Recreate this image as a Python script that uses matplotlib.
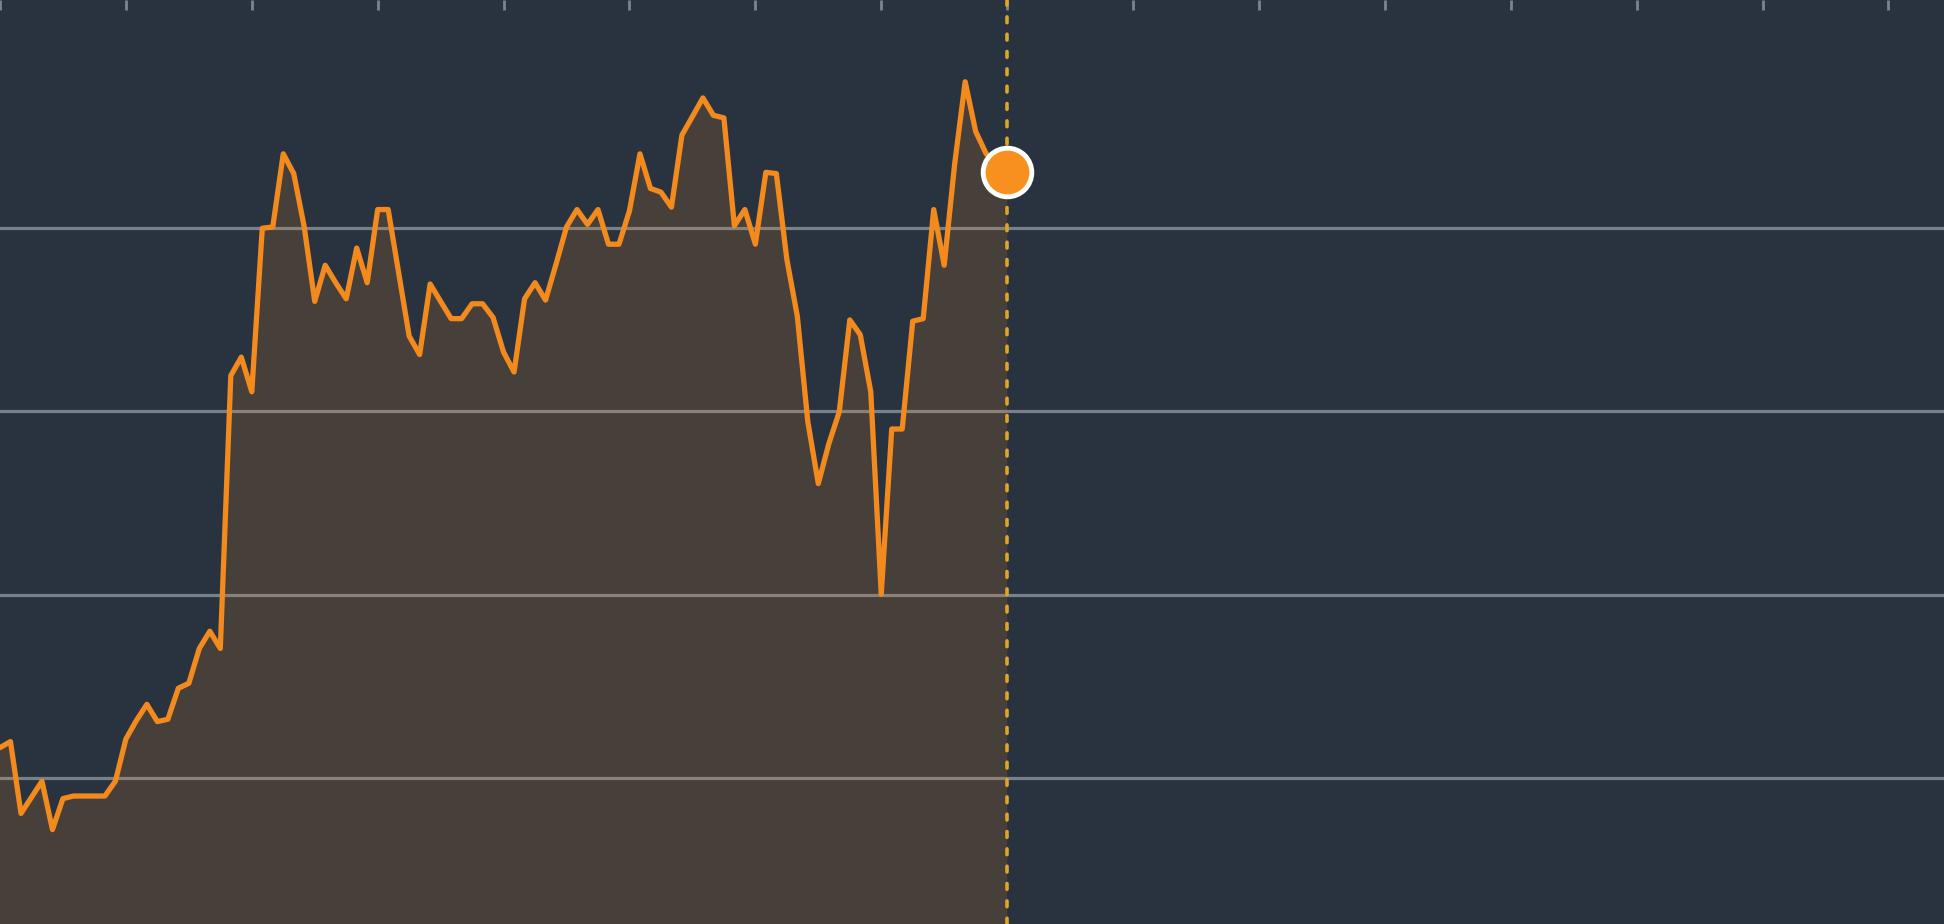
import matplotlib
matplotlib.use("Agg")
import matplotlib.pyplot as plt
import numpy as np

# ---- data (trading-day index and value) ----
days = list(range(0, 97))
values = [
    101.66, 101.99, 98.07, 98.95, 99.83, 97.19, 98.88, 99.02, 99.02, 99.02,
    99.02, 99.83, 102.13, 103.14, 104.02, 103.08, 103.21, 104.90, 105.17, 107.07,
    108.01, 107.07, 121.95, 122.96, 121.07, 129.99, 130.06, 134.05, 132.97, 130.06,
    126.00, 127.97, 127.02, 126.14, 128.91, 127.02, 131.01, 131.01, 127.56, 124.11,
    123.10, 126.95, 126.00, 125.06, 125.06, 125.87, 125.87, 125.12, 123.23, 122.15,
    126.14, 127.02, 126.07, 128.03, 130.06, 131.01, 130.20, 131.01, 129.12, 129.12,
    130.94, 134.05, 132.16, 131.96, 131.14, 135.07, 136.08, 137.10, 136.15, 136.01,
    130.13, 131.01, 129.12, 133.04, 132.97, 128.30, 125.19, 119.44, 116.06, 118.23,
    119.98, 124.99, 124.18, 121.07, 110.04, 119.04, 119.04, 124.92, 125.06, 131.01,
    127.97, 133.51, 137.98, 135.27, 134.05, 133.51, 133.04,
]
x_ticks = list(range(0, 181, 12))
y_grid = [100, 110, 120, 130]
x_range = (0.32, 185.3)
y_range = (92.04, 142.44)

BG = "#29333f"
ORANGE = "#f28a1e"
DOT = "#f7901f"
GOLD = "#dfa526"

fig = plt.figure(figsize=(19.44, 9.24), dpi=100)
fig.patch.set_facecolor(BG)
ax = fig.add_axes([0, 0, 1, 1])
ax.set_facecolor(BG)

ax.set_xlim(*x_range)
ax.set_ylim(*y_range)

# gridlines
ax.set_yticks(y_grid)
ax.yaxis.grid(True, color="#78808a", linewidth=2.3, zorder=1)
ax.xaxis.grid(False)
ax.set_axisbelow(True)

# area fill (semi-transparent orange over the gridlines)
ax.fill_between(days, values, y_range[0] - 10, color=ORANGE, alpha=0.15,
                linewidth=0, zorder=2)
ax.plot(days, values, color=ORANGE, linewidth=3.8, solid_joinstyle="round",
        solid_capstyle="round", zorder=4)

# current-day marker line and dot
ax.axvline(days[-1], color=GOLD, linewidth=2.6, linestyle=(0, (1.6, 3.2)),
           dash_capstyle="round", zorder=3)
ax.plot([days[-1]], [values[-1]], marker="o", markersize=35, color=DOT,
        markeredgecolor="white", markeredgewidth=3.5, zorder=5)

# ticks at top, pointing inward, no labels
ax.set_xticks(x_ticks)
ax.tick_params(axis="x", which="both", top=True, bottom=False, direction="in",
               length=7, width=2.0, color="#7d848e", labeltop=False,
               labelbottom=False)
ax.tick_params(axis="y", which="both", left=False, right=False,
               labelleft=False, labelright=False)
for s in ax.spines.values():
    s.set_visible(False)

fig.savefig("out.png", dpi=100, facecolor=BG)
